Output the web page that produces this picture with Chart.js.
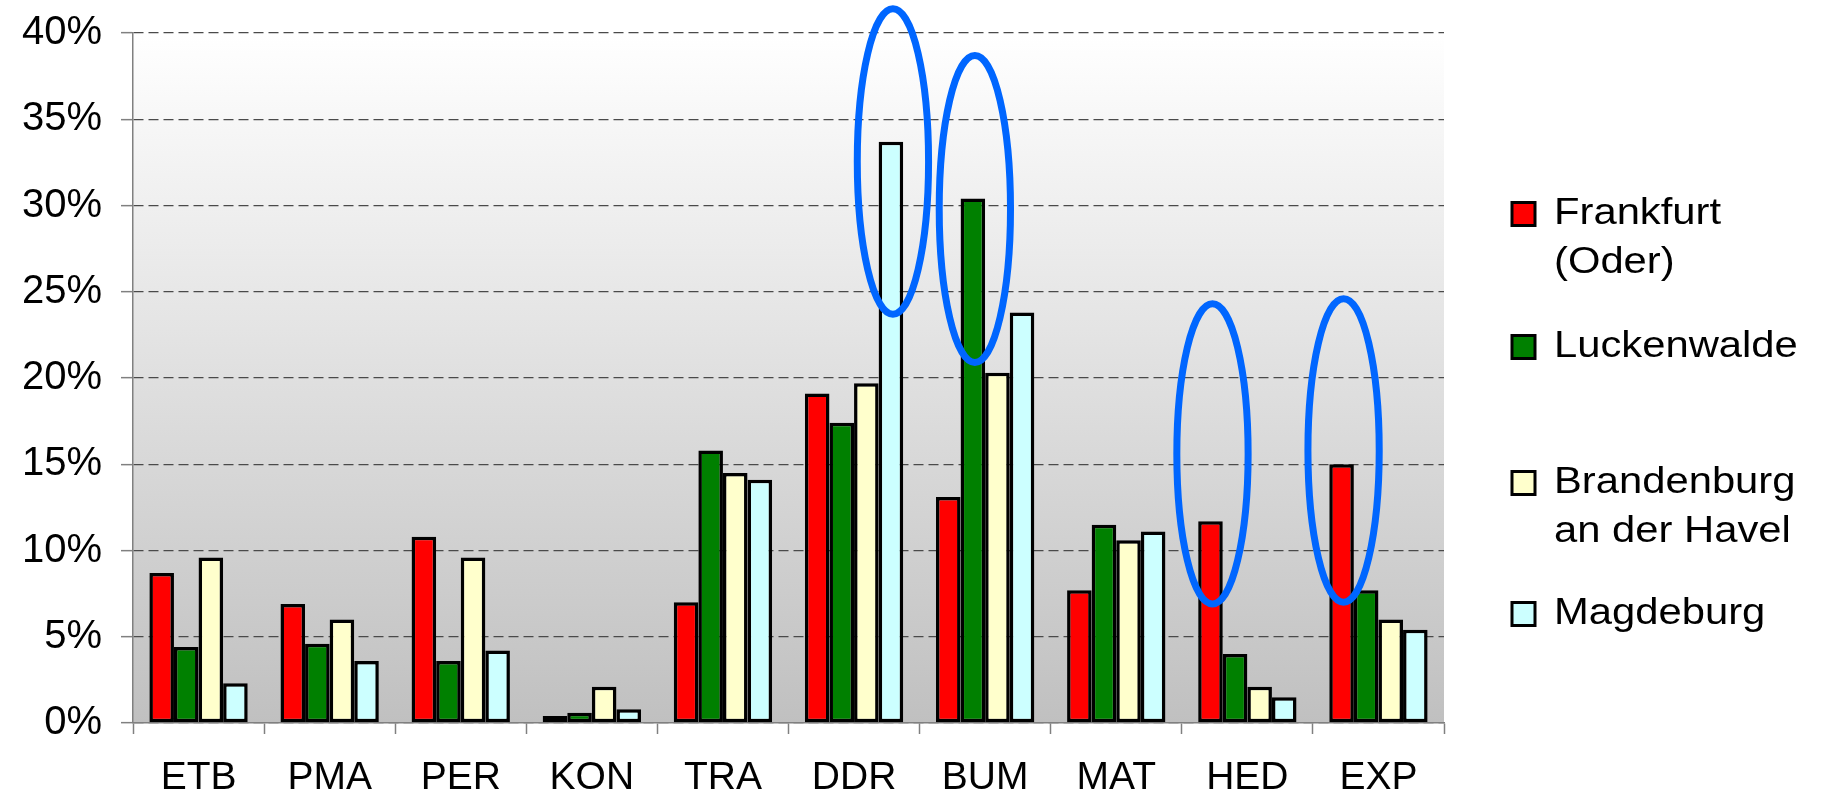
<!DOCTYPE html>
<html><head><meta charset="utf-8">
<script src="https://cdn.jsdelivr.net/npm/chart.js@4.4.0/dist/chart.umd.min.js"></script>
<style>html,body{margin:0;padding:0;background:#fff;overflow:hidden}canvas{display:block}</style>
</head><body>
<canvas id="c" width="1821" height="795"></canvas>
<script>
// ---- data ----
const categories = ['ETB','PMA','PER','KON','TRA','DDR','BUM','MAT','HED','EXP'];
const seriesNames = ['Frankfurt (Oder)','Luckenwalde','Brandenburg an der Havel','Magdeburg'];
const legendLines = [['Frankfurt','(Oder)'],['Luckenwalde'],['Brandenburg','an der Havel'],['Magdeburg']];
const frankfurt   = [8.7, 6.9, 10.8, 0.4, 7.0, 19.1, 13.1, 7.7, 11.7, 15.0];
const luckenwalde = [4.4, 4.6, 3.6, 0.6, 15.8, 17.4, 30.4, 11.5, 4.0, 7.7];
const brandenburg = [9.6, 6.0, 9.6, 2.1, 14.5, 19.7, 20.3, 10.6, 2.1, 6.0];
const magdeburg   = [2.3, 3.6, 4.2, 0.8, 14.1, 33.7, 23.8, 11.1, 1.5, 5.4];
const yMin = 0, yMax = 40, yStep = 5;
// highlighted bars (blue ellipses), vertical extent in % units
const highlightCategories = ['DDR','BUM','HED','EXP'];
const highlightSeries = ['Magdeburg','Luckenwalde','Frankfurt (Oder)','Frankfurt (Oder)'];
const highlightTop    = [41.4, 38.7, 24.3, 24.6];
const highlightBottom = [23.7, 20.9, 6.9, 7.0];

const seriesValues = [frankfurt, luckenwalde, brandenburg, magdeburg];
const seriesColors = ['#ff0000','#008000','#ffffcc','#ccffff'];

const bgPlugin = {
  id: 'bg',
  beforeDraw(chart) {
    const {ctx, chartArea: a} = chart;
    const g = ctx.createLinearGradient(0, a.top, 0, a.bottom);
    g.addColorStop(0, '#ffffff');
    g.addColorStop(1, '#c0c0c0');
    ctx.save();
    ctx.fillStyle = g;
    ctx.fillRect(a.left, a.top, a.right - a.left, a.bottom - a.top);
    ctx.restore();
  }
};

const ellipsePlugin = {
  id: 'ellipses',
  afterDatasetsDraw(chart) {
    const ctx = chart.ctx, ys = chart.scales.y;
    ctx.save();
    highlightCategories.forEach((cat, i) => {
      const ci = categories.indexOf(cat);
      const di = seriesNames.indexOf(highlightSeries[i]);
      const bar = chart.getDatasetMeta(di).data[ci];
      const cx = bar.x + 2;
      const rx = bar.width * 1.45;
      const yt = ys.getPixelForValue(highlightTop[i]);
      const yb = ys.getPixelForValue(highlightBottom[i]);
      ctx.beginPath();
      ctx.ellipse(cx, (yt + yb) / 2, rx, (yb - yt) / 2, 0, 0, Math.PI * 2);
      ctx.strokeStyle = '#0066ff';
      ctx.lineWidth = 7;
      ctx.stroke();
    });
    ctx.restore();
  }
};

const legendPlugin = {
  id: 'sideLegend',
  afterDraw(chart) {
    const ctx = chart.ctx;
    const boxX = 1512, boxSize = 23, textX = 1554, lineH = 49;
    const itemCenters = [214, 347, 483, 614];
    ctx.save();
    ctx.font = '36px "Liberation Sans", Arial, sans-serif';
    ctx.textBaseline = 'middle';
    legendLines.forEach((lines, i) => {
      const cy = itemCenters[i];
      ctx.fillStyle = seriesColors[i];
      ctx.fillRect(boxX, cy - boxSize / 2, boxSize, boxSize);
      ctx.lineWidth = 3;
      ctx.strokeStyle = '#000';
      ctx.strokeRect(boxX, cy - boxSize / 2, boxSize, boxSize);
      ctx.fillStyle = '#000';
      lines.forEach((t, k) => {
        ctx.save();
        ctx.translate(textX, cy + k * lineH);
        ctx.scale(1.16, 1);
        ctx.fillText(t, 0, 0);
        ctx.restore();
      });
    });
    ctx.restore();
  }
};

new Chart(document.getElementById('c'), {
  type: 'bar',
  data: {
    labels: categories,
    datasets: seriesNames.map((n, i) => ({
      label: n,
      data: seriesValues[i],
      backgroundColor: seriesColors[i],
      borderColor: '#000',
      borderWidth: 3.5,
      borderSkipped: false,
      categoryPercentage: 0.75,
      barPercentage: 1.0
    }))
  },
  options: {
    responsive: false,
    devicePixelRatio: 1,
    animation: false,
    layout: { padding: { left: 0, top: 33, right: 377, bottom: 0 } },
    plugins: { legend: { display: false }, tooltip: { enabled: false } },
    scales: {
      x: {
        afterFit(s) { s.height = 72; s.paddingLeft = 0; s.paddingRight = 0; },
        grid: { drawOnChartArea: false, offset: true, tickLength: 11, tickColor: '#808080', tickWidth: 1.5 },
        border: { color: '#808080', width: 1.5 },
        ticks: { color: '#000', padding: 21, font: { family: '"Liberation Sans", Arial, sans-serif', size: 39 }, maxRotation: 0 }
      },
      y: {
        min: yMin, max: yMax,
        afterFit(s) { s.width = 133; s.paddingTop = 0; s.paddingBottom = 0; },
        grid: { color: '#4a4a4a', lineWidth: 1.3, tickLength: 12, tickColor: '#808080', tickWidth: 1.5 },
        border: { color: '#808080', width: 1.5, dash: [10, 5] },
        ticks: { stepSize: yStep, color: '#000', padding: 19, font: { family: '"Liberation Sans", Arial, sans-serif', size: 40, lineHeight: 1.0 }, callback: v => v + '%' }
      }
    }
  },
  plugins: [bgPlugin, ellipsePlugin, legendPlugin]
});
</script>
</body></html>
